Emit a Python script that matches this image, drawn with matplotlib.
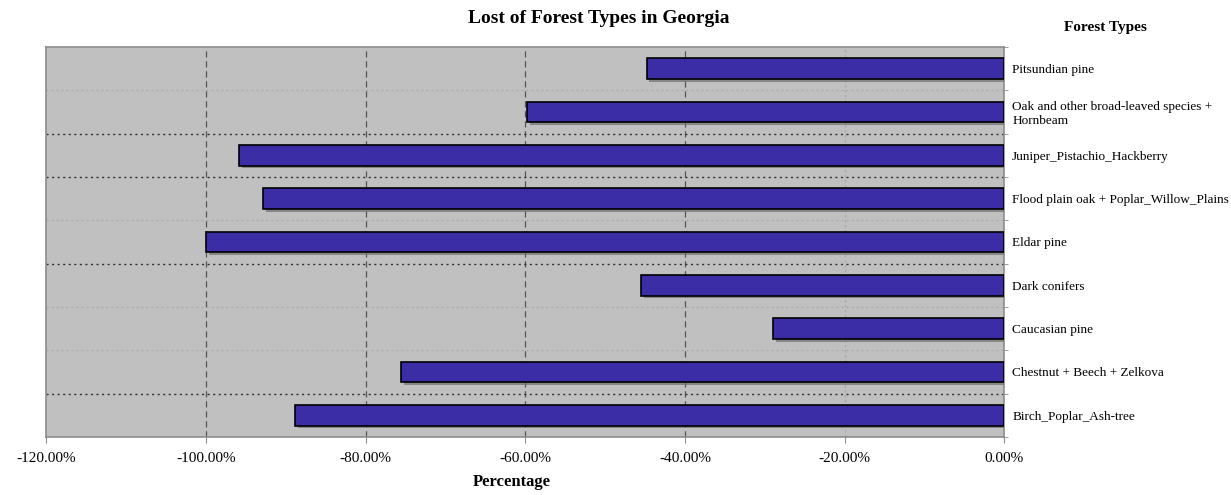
import matplotlib
matplotlib.use("Agg")
import matplotlib.pyplot as plt
import matplotlib.patheffects as pe
from matplotlib.ticker import FuncFormatter, FixedLocator
import numpy as np

# Forest types (top to bottom) and percentage loss
forest_types = [
    "Pitsundian pine",
    "Oak and other broad-leaved species +\nHornbeam",
    "Juniper_Pistachio_Hackberry",
    "Flood plain oak + Poplar_Willow_Plains",
    "Eldar pine",
    "Dark conifers",
    "Caucasian pine",
    "Chestnut + Beech + Zelkova",
    "Birch_Poplar_Ash-tree",
]
loss_pct = [-44.8, -59.8, -95.8, -92.8, -100.0, -45.5, -29.0, -75.5, -88.8]
x_ticks = [-120, -100, -80, -60, -40, -20, 0]

plt.rcParams["font.family"] = ["Liberation Serif", "DejaVu Serif"]

fig = plt.figure(figsize=(12.31, 4.95), dpi=100)
ax = fig.add_axes([0.0374, 0.1172, 0.7786, 0.788])
ax.set_facecolor("#C0C0C0")

n = len(forest_types)
ypos = np.arange(n)[::-1]

shadow = [pe.SimplePatchShadow(offset=(2, -2), shadow_rgbFace="#6E6E6E", alpha=0.7),
          pe.Normal()]
bars = ax.barh(ypos, loss_pct, height=0.48, color="#3A2DA5",
               edgecolor="black", linewidth=1.2, zorder=3)
for b in bars:
    b.set_path_effects(shadow)

ax.set_xlim(-120, 0)
ax.set_ylim(-0.5, n - 0.5)

# vertical gridlines
for xv in x_ticks[1:-1]:
    if xv == -20:
        ax.axvline(xv, color="#A8A8A8", lw=0.9, ls=(0, (2, 2)), zorder=1)
    else:
        ax.axvline(xv, color="#555555", lw=0.9, ls=(0, (5, 3)), zorder=1)

# horizontal gridlines between categories
grid_dark = [False, True, True, False, True, False, False, True]
for i, dark in enumerate(grid_dark):
    yv = n - 1.5 - i
    if dark:
        ax.axhline(yv, color="#303030", lw=1.0, ls=(0, (1.5, 2.5)), zorder=1)
    else:
        ax.axhline(yv, color="#A9A9A9", lw=0.9, ls=(0, (1.5, 2.5)), zorder=1)

for s in ax.spines.values():
    s.set_color("#8C8C8C")
    s.set_linewidth(1.2)

ax.xaxis.set_major_locator(FixedLocator(x_ticks))
ax.xaxis.set_major_formatter(FuncFormatter(lambda v, p: f"{v:.2f}%"))
ax.tick_params(axis="x", direction="out", length=4, color="#8C8C8C",
               labelsize=11, pad=7)

ax.yaxis.tick_right()
ax.set_yticks(ypos)
ax.set_yticklabels(forest_types, fontsize=9.5, ha="left")
ax.tick_params(axis="y", length=0, pad=5.5)
ax.set_yticks(np.arange(n + 1) - 0.5, minor=True)
ax.tick_params(axis="y", which="minor", length=3, color="#8C8C8C", direction="out")

fig.text(0.486, 0.962, "Lost of Forest Types in Georgia", fontsize=14,
         fontweight="bold", ha="center", va="center")
fig.text(0.898, 0.945, "Forest Types", fontsize=11, fontweight="bold",
         ha="center", va="center")
fig.text(0.416, 0.026, "Percentage", fontsize=12, fontweight="bold",
         ha="center", va="center")

fig.savefig("out.png", dpi=100, facecolor="white")
